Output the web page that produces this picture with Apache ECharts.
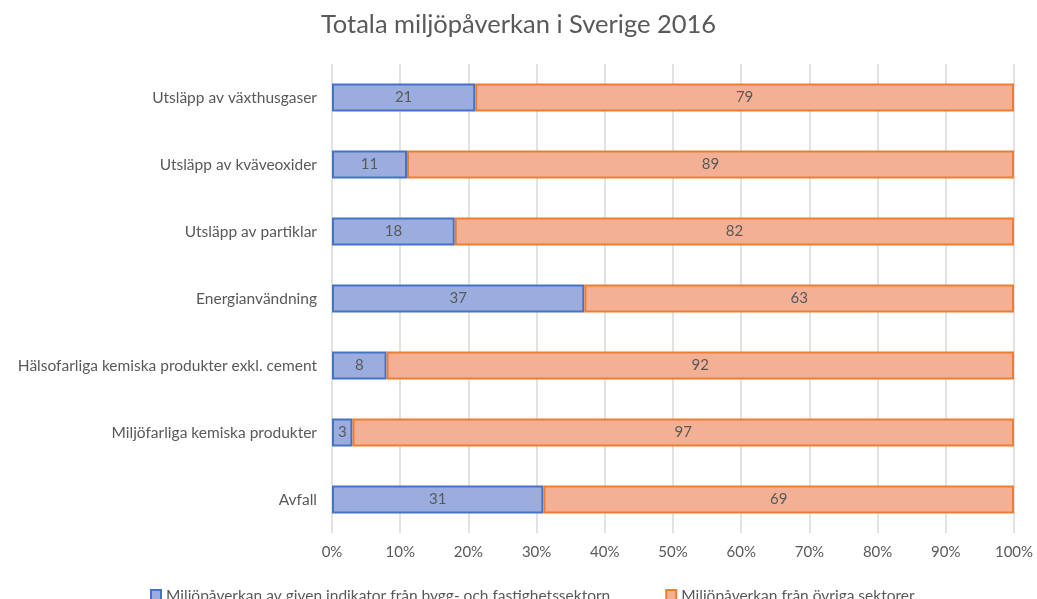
<!DOCTYPE html>
<html><head><meta charset="utf-8">
<script src="https://cdn.jsdelivr.net/npm/echarts@6/dist/echarts.min.js"></script>
<style>html,body{margin:0;padding:0;background:#fff}#c{width:1037px;height:599px}</style>
</head><body><div id="c"></div>
<script>
const categories = ["Utsläpp av växthusgaser","Utsläpp av kväveoxider","Utsläpp av partiklar","Energianvändning","Hälsofarliga kemiska produkter exkl. cement","Miljöfarliga kemiska produkter","Avfall"];
const byggValues = [21, 11, 18, 37, 8, 3, 31];
const ovrigaValues = [79, 89, 82, 63, 92, 97, 69];
const seriesNames = ["Miljöpåverkan av given indikator från bygg- och fastighetssektorn","Miljöpåverkan från övriga sektorer"];
const titleText = "Totala miljöpåverkan i Sverige 2016";

const font = "Lato, 'Open Sans', sans-serif";
const chart = echarts.init(document.getElementById('c'));
chart.setOption({
  animation: false,
  title: {text: titleText, left: 'center', top: 7, textStyle: {fontFamily: font, fontSize: 25.5, fontWeight: 'normal', color: '#595959'}},
  legend: {left: 145, top: 583, itemWidth: 10, itemHeight: 12, itemGap: 55, icon: 'rect',
    textStyle: {fontFamily: font, fontSize: 15.5, color: '#595959'}, data: seriesNames},
  grid: {left: 332, right: 23, top: 64, bottom: 66, containLabel: false},
  xAxis: {type: 'value', min: 0, max: 100, interval: 10,
    axisLabel: {formatter: '{value}%', fontFamily: font, fontSize: 15, color: '#595959', margin: 12},
    splitLine: {show: true, lineStyle: {color: '#d9d9d9', width: 1.5}},
    axisLine: {show: false}, axisTick: {show: false}},
  yAxis: {type: 'category', data: categories, inverse: true,
    axisLabel: {fontFamily: font, fontSize: 15.5, color: '#595959', margin: 15},
    axisLine: {show: false}, axisTick: {show: false}},
  series: [
    {name: seriesNames[0], type: 'bar', stack: 's', data: byggValues, barCategoryGap: '58%',
      itemStyle: {color: '#9badde', borderColor: '#4472c4', borderWidth: 2},
      label: {show: true, position: 'inside', fontFamily: font, fontSize: 15, color: '#595959'}},
    {name: seriesNames[1], type: 'bar', stack: 's', data: ovrigaValues, barCategoryGap: '58%',
      itemStyle: {color: '#f4b094', borderColor: '#ed7d31', borderWidth: 2},
      label: {show: true, position: 'inside', fontFamily: font, fontSize: 15, color: '#595959'}}
  ]
});
</script></body></html>
